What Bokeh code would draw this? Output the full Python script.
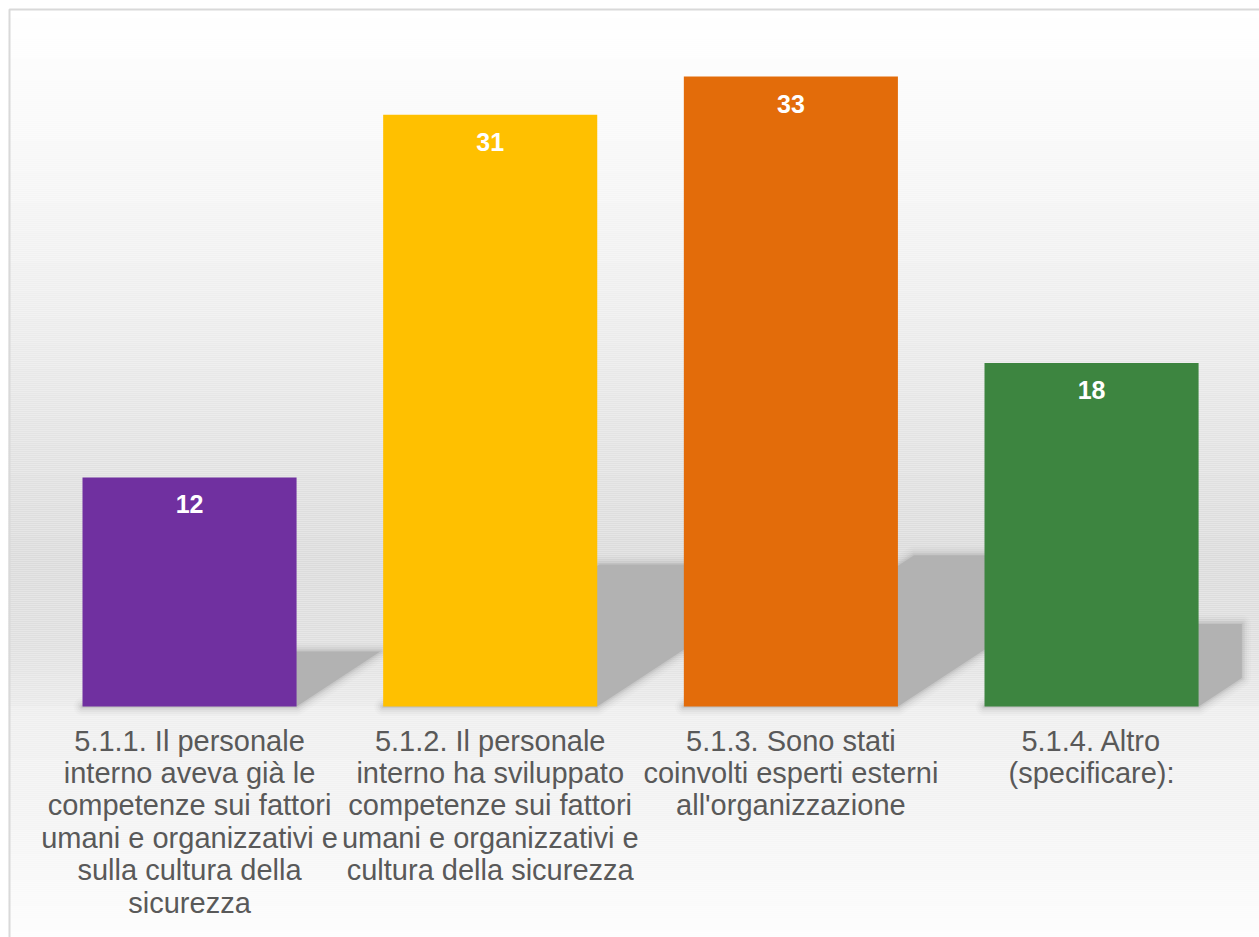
import numpy as np
from bokeh.plotting import figure
from bokeh.models import Range1d, ColumnDataSource
from bokeh.core.properties import value
from bokeh.embed import file_html
from bokeh.resources import INLINE

# ---- data ----
categories = [
    "5.1.1. Il personale\ninterno aveva già le\ncompetenze sui fattori\numani e organizzativi e\nsulla cultura della\nsicurezza",
    "5.1.2. Il personale\ninterno ha sviluppato\ncompetenze sui fattori\numani e organizzativi e\ncultura della sicurezza",
    "5.1.3. Sono stati\ncoinvolti esperti esterni\nall'organizzazione",
    "5.1.4. Altro\n(specificare):",
]
values = [12, 31, 33, 18]
colors = ["#7030a0", "#ffc000", "#e36c0a", "#3d8540"]

# ---- layout constants (pixels) ----
W, H = 1259, 937
XPX = 300.67          # pixels per category
YPX = 19.09           # pixels per unit
X0 = 38.7             # left edge of category range in figure px
Y0 = 706.0            # baseline (value 0) in figure px from top
BORDER = 8.0          # chart border offset

x_start = -X0 / XPX
x_end = x_start + W / XPX
y_end = Y0 / YPX
y_start = y_end - H / YPX

BAR_W = 0.712
N = len(values)
xc = [i + 0.5 for i in range(N)]

p = figure(width=W, height=H, output_backend="svg", toolbar_location=None,
           x_range=Range1d(x_start, x_end), y_range=Range1d(y_start, y_end),
           x_axis_type=None, y_axis_type=None, min_border=0)
p.grid.visible = False
p.background_fill_color = "white"
p.border_fill_color = "white"
p.outline_line_color = None

def to_y(page_px):
    return (Y0 - page_px) / YPX

def to_x(page_px):
    return (page_px - X0) / XPX

# ---- background gradient (style) ----
stops_top = [(BORDER, 255), (150, 248), (300, 238), (450, 226), (560, 219), (640, 223), (706, 234)]
stops_bot = [(706, 238), (810, 243), (937, 253)]
bands_top, bands_bot, bands_col = [], [], []
for stops in (stops_top, stops_bot):
    ys = np.arange(stops[0][0], stops[-1][0], 2.0)
    for yy in ys:
        g = np.interp(yy + 1, [s[0] for s in stops], [s[1] for s in stops])
        gi = int(round(g))
        bands_top.append(to_y(yy))
        bands_bot.append(to_y(min(yy + 2.0, stops[-1][0])))
        bands_col.append("#%02x%02x%02x" % (gi, gi, gi))
p.quad(left=to_x(BORDER), right=x_end, top=bands_top, bottom=bands_bot,
       fill_color=bands_col, line_color=None)

# chart border
p.quad(left=to_x(BORDER + 1), right=to_x(W + 20), top=to_y(BORDER + 1), bottom=to_y(H + 20),
       fill_color=None, line_color="#d9d9d9", line_width=2)

# ---- perspective shadows ----
SH_H = 0.24      # shadow height relative to value
SH_S = 0.0232    # horizontal shift per unit value
XCLIP = float(N)

def clip_x(poly, xmax):
    out = []
    n = len(poly)
    for i in range(n):
        a = poly[i]
        b = poly[(i + 1) % n]
        ain = a[0] <= xmax
        bin_ = b[0] <= xmax
        if ain:
            out.append(a)
        if ain != bin_:
            t = (xmax - a[0]) / (b[0] - a[0])
            out.append((xmax, a[1] + t * (b[1] - a[1])))
    return out

sxs, sys_ = [], []
for c, v in zip(xc, values):
    h = SH_H * v
    s = SH_S * v
    poly = [(c - BAR_W / 2, 0), (c + BAR_W / 2, 0), (c + BAR_W / 2 + s, h), (c - BAR_W / 2 + s, h)]
    poly = clip_x(poly, XCLIP)
    sxs.append([q[0] for q in poly])
    sys_.append([q[1] for q in poly])

for lw, la in [(18, 0.05), (14, 0.08), (10, 0.12), (6, 0.2), (3, 0.3)]:
    p.patches(xs=sxs, ys=sys_, fill_color=None, line_color="#b0b0b0",
              line_width=lw, line_alpha=la, line_join="round")
p.patches(xs=sxs, ys=sys_, fill_color="#b2b2b2", line_color=None)

# ---- bars ----
src = ColumnDataSource(dict(x=xc, top=values, color=colors,
                            label=[str(v) for v in values], cat=categories))
p.vbar(x="x", top="top", bottom=0, width=BAR_W, fill_color="color",
       line_color=None, source=src)

# value labels
p.text(x="x", y="top", text="label", source=src, text_color="white",
       text_font=value("Liberation Sans"), text_font_style="bold",
       text_font_size="25px", text_align="center", text_baseline="alphabetic",
       y_offset=27)

# category labels
p.text(x="x", y=0, text="cat", source=src, text_color="#595959",
       text_font=value("Liberation Sans"), text_font_size="29px",
       text_align="center", text_baseline="top", text_line_height=1.015,
       y_offset=18)

open("out.html", "w").write(file_html(p, INLINE))
